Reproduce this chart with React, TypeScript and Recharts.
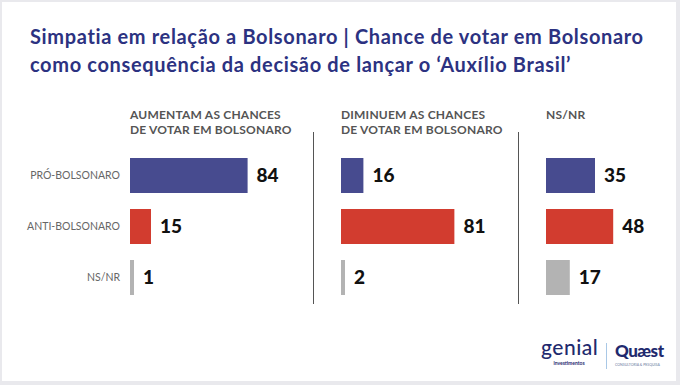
import * as React from 'react';
import { BarChart, Bar, XAxis, YAxis, Cell, LabelList } from 'recharts';

const groups = ['PRÓ-BOLSONARO', 'ANTI-BOLSONARO', 'NS/NR'];
const colors = ['#474b8f', '#d23c2f', '#b3b3b3'];

const aumentam = [84, 15, 1];
const diminuem = [16, 81, 2];
const nsnr = [35, 48, 17];

const panelTitles = [
  ['AUMENTAM AS CHANCES', 'DE VOTAR EM BOLSONARO'],
  ['DIMINUEM AS CHANCES', 'DE VOTAR EM BOLSONARO'],
  ['NS/NR'],
];

const FONT = 'Lato, "Open Sans", sans-serif';

interface PanelProps {
  values: number[];
  left: number;
  showLabels: boolean;
}

const Panel: React.FC<PanelProps> = ({ values, left, showLabels }) => {
  const data = groups.map((g, i) => ({ group: g, value: values[i] }));
  const axisW = showLabels ? 130 : 0;
  const padL = showLabels ? 0 : 28;
  const plotW = 140;
  const width = axisW + padL + plotW + 40;
  return (
    <div style={{ position: 'absolute', left, top: 140 }}>
      <BarChart
        width={width}
        height={172}
        data={data}
        layout="vertical"
        margin={{ top: 10, bottom: 9, left: padL, right: 40 }}
        barSize={35}
      >
        <XAxis type="number" domain={[0, 100]} hide />
        <YAxis
          type="category"
          dataKey="group"
          width={axisW}
          hide={!showLabels}
          axisLine={false}
          tickLine={false}
          tickMargin={4}
          tick={{ fill: '#666', fontSize: 10.5, fontFamily: FONT }}
        />
        <Bar dataKey="value" isAnimationActive={false} minPointSize={4}>
          {data.map((d, i) => (
            <Cell key={d.group} fill={colors[i]} />
          ))}
          <LabelList
            dataKey="value"
            position="right"
            offset={9}
            style={{ fill: '#111', fontSize: 19, fontWeight: 900, fontFamily: FONT }}
          />
        </Bar>
      </BarChart>
    </div>
  );
};

const App: React.FC = () => {
  const headerLefts = [130, 341, 546];
  return (
    <div style={{ position: 'absolute', left: 0, top: 0, width: 680, height: 385, background: '#e9e9ed', overflow: 'hidden', fontFamily: FONT }}>
      <div style={{ position: 'absolute', left: 2, top: 2, width: 674, height: 379, background: '#fff' }} />
      <div style={{ position: 'absolute', left: 30, top: 22, color: '#2c3281', fontSize: 20, fontWeight: 700, lineHeight: '28px', letterSpacing: 0.65, whiteSpace: 'nowrap' }}>
        <div>Simpatia em relação a Bolsonaro | Chance de votar em Bolsonaro</div>
        <div>como consequência da decisão de lançar o ‘Auxílio Brasil’</div>
      </div>
      {panelTitles.map((lines, i) => (
        <div key={i} style={{ position: 'absolute', left: headerLefts[i], top: 107, color: '#555', fontSize: 12, fontWeight: 700, lineHeight: '15px', letterSpacing: 0.2, whiteSpace: 'nowrap' }}>
          {lines.map((l) => (
            <div key={l}>{l}</div>
          ))}
        </div>
      ))}
      <div style={{ position: 'absolute', left: 313, top: 132, width: 1, height: 172, background: '#555' }} />
      <div style={{ position: 'absolute', left: 518, top: 132, width: 1, height: 172, background: '#555' }} />
      <Panel values={aumentam} left={0} showLabels />
      <Panel values={diminuem} left={313} showLabels={false} />
      <Panel values={nsnr} left={518} showLabels={false} />
      {/* logos */}
      <div style={{ position: 'absolute', left: 541, top: 336, width: 56, textAlign: 'center', color: '#1f2a6e', fontSize: 21, fontWeight: 500, lineHeight: '22px', letterSpacing: 0.5 }}>
        genial
      </div>
      <div style={{ position: 'absolute', left: 541, top: 360, width: 56, textAlign: 'center', color: '#1f2a6e', fontSize: 5, fontWeight: 700, lineHeight: '6px' }}>
        investimentos
      </div>
      <div style={{ position: 'absolute', left: 606, top: 343, width: 1, height: 26, background: '#a9c8e6' }} />
      <div style={{ position: 'absolute', left: 615, top: 341, color: '#1f2a6e', fontSize: 17, fontWeight: 900, lineHeight: '20px', letterSpacing: -0.5 }}>
        Quæst
      </div>
      <div style={{ position: 'absolute', left: 615, top: 363, color: '#6a7aa0', fontSize: 3.5, lineHeight: '5px', whiteSpace: 'nowrap' }}>
        CONSULTORIA &amp; PESQUISA
      </div>
    </div>
  );
};

export default App;
